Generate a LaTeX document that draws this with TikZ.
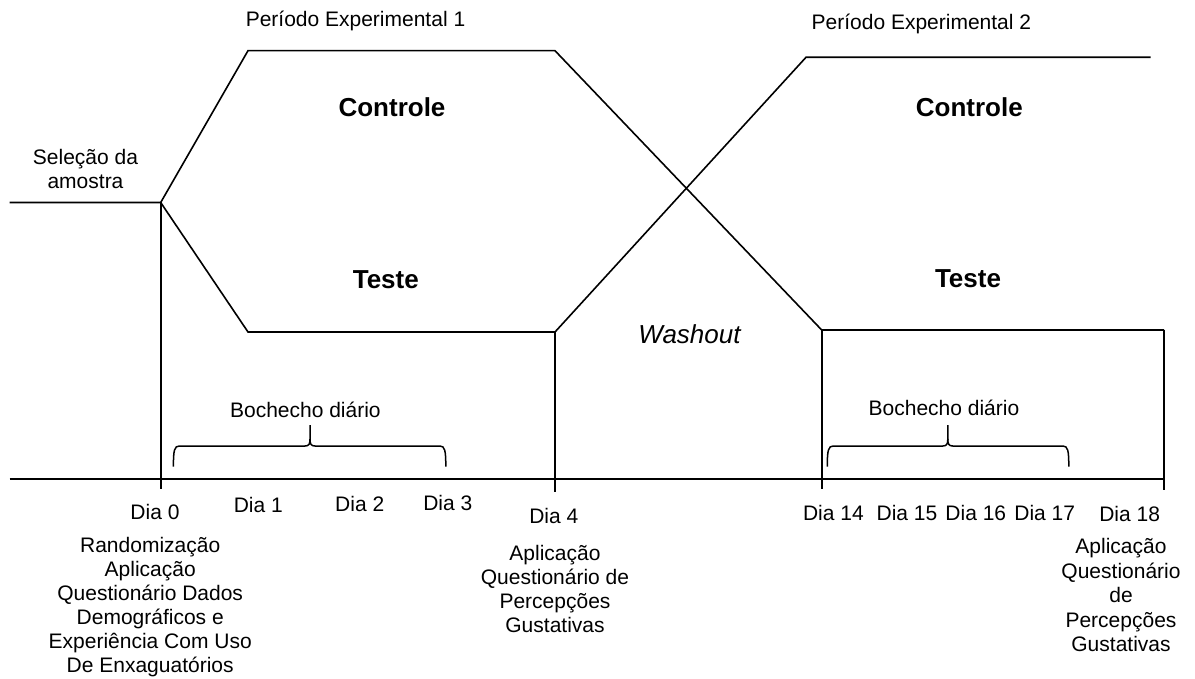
\documentclass[tikz,border=0pt]{standalone}
\usepackage{fontspec}
\setmainfont{Liberation Sans}
\newcommand{\mybrace}[3]{%
  \draw[brc] (#1,466.7) .. controls (#1,450) and ({#1+1},446) .. ({#1+6},446)
    -- ({#2-5},446) .. controls ({#2-1},446) and (#2,444) .. (#2,439) -- (#2,425);
  \draw[brc] (#2,439) .. controls (#2,444) and ({#2+1},446) .. ({#2+5},446)
    -- ({#3-6},446) .. controls ({#3-1},446) and (#3,450) .. (#3,466.7);}
\begin{document}
\begin{tikzpicture}[x=1pt,y=-1pt,line width=1.6pt,
  lbl/.style={font=\fontsize{21}{24}\selectfont,inner sep=0pt,anchor=base,align=center},
  big/.style={font=\fontsize{26}{30}\selectfont\bfseries,inner sep=0pt,anchor=base},
  wash/.style={font=\fontsize{26}{30}\selectfont\itshape,inner sep=0pt,anchor=base},
  brc/.style={line width=1.5pt}]
\useasboundingbox (0,0) rectangle (1195,679);
\fill[white] (0,0) rectangle (1195,679);
% key points
\coordinate (L0) at (9.6,202.5);
\coordinate (J0) at (160.7,202.5);
\coordinate (C1a) at (248,50.7);
\coordinate (C1b) at (555,50.7);
\coordinate (T2a) at (821.7,330);
\coordinate (T2b) at (1164,330);
\coordinate (T1a) at (248,332);
\coordinate (T1b) at (555,332);
\coordinate (C2a) at (806,57.3);
\coordinate (C2b) at (1150.7,57.3);
\coordinate (AxL) at (9.6,479);
\coordinate (AxR) at (1164,479);
\coordinate (V0) at (160.7,489);
\coordinate (V4) at (555,492);
\coordinate (V14) at (821.7,489);
\coordinate (V18) at (1164,490);
% lines
\draw (L0) -- (J0) -- (C1a) -- (C1b) -- (T2a) -- (T2b);
\draw (J0) -- (T1a) -- (T1b) -- (C2a) -- (C2b);
\draw (AxL) -- (AxR);
\draw (J0) -- (V0);
\draw (T1b) -- (V4);
\draw (T2a) -- (V14);
\draw (T2b) -- (V18);
% braces
\mybrace{173.4}{310}{445.8}
\mybrace{827.3}{947.8}{1068.8}
% labels
\node[lbl] (pe1) at (355.5,27) {Período Experimental 1};
\node[lbl] (pe2) at (921.4,30) {Período Experimental 2};
\node[lbl] (sel) at (85.5,189) {Seleção da\\amostra};
\node[big] (c1) at (392,116.6) {Controle};
\node[big] (t1) at (385.8,288.6) {Teste};
\node[big] (c2) at (969.3,116.6) {Controle};
\node[big] (t2) at (968,287.6) {Teste};
\node[wash] (wo) at (689.5,343) {Washout};
\node[lbl] (b1) at (305.4,417) {Bochecho diário};
\node[lbl] (b2) at (944,415) {Bochecho diário};
\node[lbl] (d0) at (155,519.5) {Dia 0};
\node[lbl] (d1) at (258.3,512.7) {Dia 1};
\node[lbl] (d2) at (359.7,511.7) {Dia 2};
\node[lbl] (d3) at (447.8,510.7) {Dia 3};
\node[lbl] (d4) at (553.8,523) {Dia 4};
\node[lbl] (d14) at (833.4,520) {Dia 14};
\node[lbl] (d15) at (907,520) {Dia 15};
\node[lbl] (d16) at (975.8,520) {Dia 16};
\node[lbl] (d17) at (1044.7,520) {Dia 17};
\node[lbl] (d18) at (1129.6,521.7) {Dia 18};
\node[lbl] (txt0) at (150.2,672.7) {Randomização\\Aplicação\\Questionário Dados\\Demográficos e\\Experiência Com Uso\\De Enxaguatórios};
\node[lbl] (txt4) at (555,632) {Aplicação\\Questionário de\\Percepções\\Gustativas};
\node[lbl,font=\fontsize{21}{24.5}\selectfont] (txt18) at (1121,651.5) {Aplicação\\Questionário\\de\\Percepções\\Gustativas};
\end{tikzpicture}
\end{document}
